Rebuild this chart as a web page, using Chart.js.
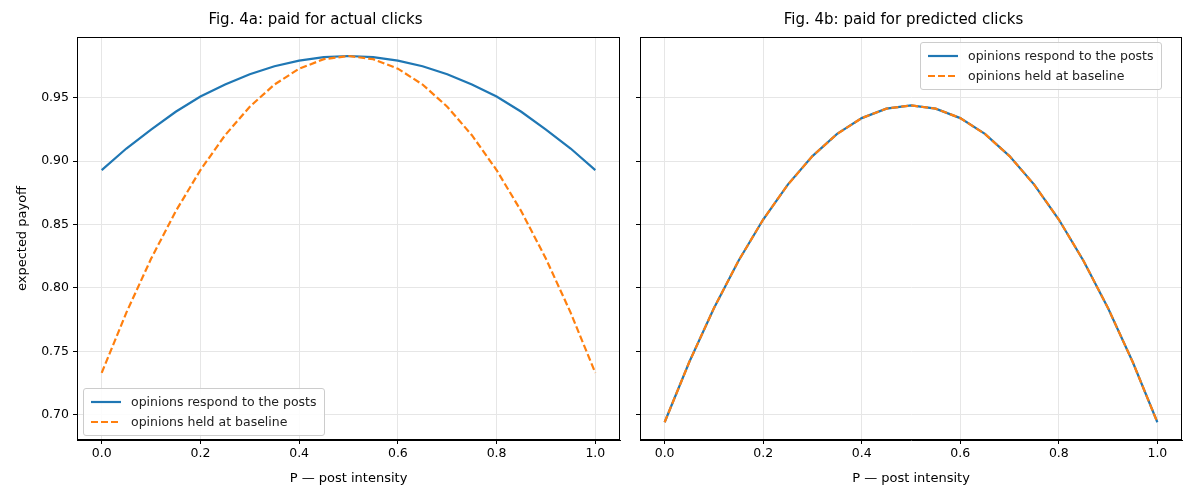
<!DOCTYPE html>
<html><head><meta charset="utf-8">
<script src="https://cdn.jsdelivr.net/npm/chart.js@4/dist/chart.umd.min.js"></script>
<style>
body{margin:0;background:#fff;font-family:"DejaVu Sans",sans-serif;}
#wrap{position:relative;width:1200px;height:500px;}
canvas{position:absolute;top:0;}
.leg{position:absolute;background:rgba(255,255,255,0.85);border:1px solid #ccc;border-radius:3px;padding:3px 7px;font-size:12.5px;color:#222;line-height:20px;}
.leg div{display:flex;align-items:center;}
.leg svg{margin-right:10px;}
</style></head><body>
<div id="wrap">
<canvas id="c1" width="625" height="500" style="left:0;width:625px;height:500px"></canvas>
<canvas id="c2" width="575" height="500" style="left:625px;width:575px;height:500px"></canvas>
<div class="leg" style="left:83px;top:388px">
<div><svg width="30" height="4"><line x1="0" y1="2" x2="30" y2="2" stroke="#1f77b4" stroke-width="2.2"/></svg>opinions respond to the posts</div>
<div><svg width="30" height="4"><line x1="0" y1="2" x2="30" y2="2" stroke="#ff7f0e" stroke-width="2.2" stroke-dasharray="7,3"/></svg>opinions held at baseline</div>
</div>
<div class="leg" style="left:920px;top:42px">
<div><svg width="30" height="4"><line x1="0" y1="2" x2="30" y2="2" stroke="#1f77b4" stroke-width="2.2"/></svg>opinions respond to the posts</div>
<div><svg width="30" height="4"><line x1="0" y1="2" x2="30" y2="2" stroke="#ff7f0e" stroke-width="2.2" stroke-dasharray="7,3"/></svg>opinions held at baseline</div>
</div>
</div>
<script>
const P = [0,0.05,0.1,0.15,0.2,0.25,0.3,0.35,0.4,0.45,0.5,0.55,0.6,0.65,0.7,0.75,0.8,0.85,0.9,0.95,1.0];
const actualRespond = [0.893,0.910,0.925,0.939,0.951,0.9605,0.9686,0.9749,0.9794,0.9821,0.983,0.9821,0.9794,0.9749,0.9686,0.9605,0.951,0.939,0.925,0.910,0.893];
const actualBaseline = [0.733,0.7805,0.823,0.8605,0.893,0.9205,0.943,0.9605,0.973,0.9805,0.983,0.9805,0.973,0.9605,0.943,0.9205,0.893,0.8605,0.823,0.7805,0.733];
const predRespond = [0.694,0.7415,0.784,0.8215,0.854,0.8815,0.904,0.9215,0.934,0.9415,0.944,0.9415,0.934,0.9215,0.904,0.8815,0.854,0.8215,0.784,0.7415,0.694];
const predBaseline = predRespond.slice();
const xTicks = [0,0.2,0.4,0.6,0.8,1.0];
const yTicks = [0.70,0.75,0.80,0.85,0.90,0.95];
const BLUE='#1f77b4', ORANGE='#ff7f0e';
const font={family:'"DejaVu Sans",sans-serif',size:12.5};
function pts(a){return P.map((x,i)=>({x:x,y:a[i]}));}
function make(id,title,a,b,yw,showY,leftPad,rightPad){
  new Chart(document.getElementById(id),{type:'line',
    data:{datasets:[
      {data:pts(a),borderColor:BLUE,borderWidth:2.2,pointRadius:0,tension:0,order:2},
      {data:pts(b),borderColor:ORANGE,borderWidth:2.2,borderDash:[7,3],pointRadius:0,tension:0,order:1}]},
    options:{responsive:false,animation:false,devicePixelRatio:1,
      layout:{padding:{left:leftPad,right:rightPad,top:0,bottom:14}},
      plugins:{legend:{display:false},tooltip:{enabled:false},
        title:{display:true,text:title,color:'#000',font:{family:font.family,size:15,weight:'normal'},padding:{top:11,bottom:8}}},
      scales:{
        x:{type:'linear',min:-0.05,max:1.05,
          afterBuildTicks:s=>{s.ticks=xTicks.map(v=>({value:v}));},
          afterFit:s=>{s.height=46;},
          ticks:{color:'#000',font,callback:v=>v.toFixed(1),maxRotation:0,padding:2},
          grid:{color:'#e6e6e6',tickColor:'#000',tickLength:4},border:{color:'#000'},
          title:{display:true,text:'P — post intensity',color:'#000',font:{family:font.family,size:13},padding:{top:2,bottom:0}}},
        y:{type:'linear',min:0.68,max:0.998,
          afterBuildTicks:s=>{s.ticks=yTicks.map(v=>({value:v}));},
          afterFit:s=>{s.width=yw;},
          ticks:{display:showY,color:'#000',font,callback:v=>v.toFixed(2),padding:4},
          grid:{color:'#e6e6e6',tickColor:'#000',tickLength:4},border:{color:'#000'},
          title:{display:showY,text:'expected payoff',color:'#000',font:{family:font.family,size:13},padding:{bottom:4}}}
      }},
    plugins:[{id:'frame',afterDraw(c){const a=c.chartArea,x=c.ctx;x.save();x.strokeStyle='#000';x.lineWidth=1;x.strokeRect(Math.round(a.left)+0.5,Math.round(a.top)+0.5,Math.round(a.right-a.left)-1,Math.round(a.bottom-a.top)-1);x.restore();}}]
  });
}
make('c1','Fig. 4a: paid for actual clicks',actualRespond,actualBaseline,66,true,11,5);
make('c2','Fig. 4b: paid for predicted clicks',predRespond,predBaseline,15,false,0,18);
</script>
</body></html>
